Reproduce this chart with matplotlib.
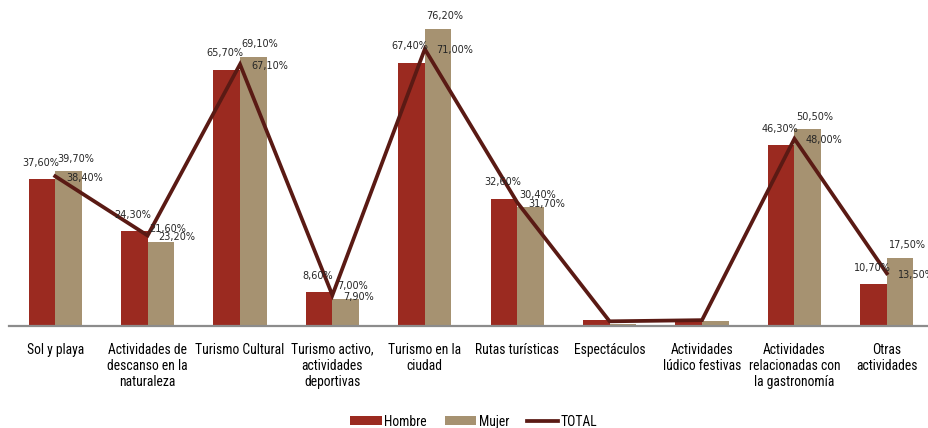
import matplotlib
matplotlib.use("Agg")
import matplotlib.pyplot as plt
import numpy as np
from matplotlib.font_manager import fontManager

categories = ["Sol y playa", "Actividades de\ndescanso en la\nnaturaleza", "Turismo Cultural",
              "Turismo activo,\nactividades\ndeportivas", "Turismo en la\nciudad", "Rutas turísticas",
              "Espectáculos", "Actividades\nlúdico festivas", "Actividades\nrelacionadas con\nla gastronomía",
              "Otras\nactividades"]
hombre = [37.6, 24.3, 65.7, 8.6, 67.4, 32.6, 1.6, 1.3, 46.3, 10.7]
mujer = [39.7, 21.6, 69.1, 7.0, 76.2, 30.4, 0.4, 1.2, 50.5, 17.5]
total = [38.4, 23.2, 67.1, 7.9, 71.0, 31.7, 1.2, 1.5, 48.0, 13.5]

names = {f.name for f in fontManager.ttflist}
narrow = None
for cand in ["Liberation Sans Narrow", "Arial Narrow", "Roboto Condensed", "Open Sans Condensed",
             "DejaVu Sans Condensed", "Noto Sans Condensed"]:
    if cand in names:
        narrow = cand
        break
if narrow is None:
    narrow = "Liberation Sans"
    tick_size = 8.4
else:
    tick_size = 9.8

c_h = "#9b2a20"
c_m = "#a69271"
c_t = "#5a1a14"

fig = plt.figure(figsize=(9.29, 4.28), dpi=100)
ax = fig.add_axes([9/929, (428-326)/428, 924/929, 312/428])

x = np.arange(len(categories))
w = 0.287
bh = ax.bar(x - w/2, hombre, w, color=c_h, label="Hombre", zorder=2)
bm = ax.bar(x + w/2, mujer, w, color=c_m, label="Mujer", zorder=2)
lt, = ax.plot(x, total, color=c_t, lw=2.7, label="TOTAL", zorder=3, solid_joinstyle="miter")

ax.set_xlim(-0.5, len(categories) - 0.5)
ax.set_ylim(0, 80)
ax.set_yticks([])
ax.set_xticks(x)
ax.set_xticklabels(categories, fontsize=tick_size, family=narrow, linespacing=1.2)
ax.tick_params(axis="x", length=0, pad=12)
for s in ["top", "right", "left"]:
    ax.spines[s].set_visible(False)
ax.spines["bottom"].set_color("#8c8c8c")
ax.spines["bottom"].set_linewidth(1.6)

def fmt(v):
    return f"{v:.2f}".replace(".", ",") + "%"

for i in range(len(categories)):
    if hombre[i] > 3:
        ax.annotate(fmt(hombre[i]), (x[i] - w/2, hombre[i]), xytext=(-1, 12), textcoords="offset points",
                    ha="center", va="center", fontsize=7, color="#262626", zorder=4)
    if mujer[i] > 3:
        ax.annotate(fmt(mujer[i]), (x[i] + w/2, mujer[i]), xytext=(5, 9), textcoords="offset points",
                    ha="center", va="center", fontsize=7, color="#262626", zorder=4)
    if total[i] > 3:
        ax.annotate(fmt(total[i]), (x[i], total[i]), xytext=(8, -1), textcoords="offset points",
                    ha="left", va="center", fontsize=7, color="#262626", zorder=4)

leg = fig.legend([bh, bm, lt], ["Hombre", "Mujer", "TOTAL"], loc="lower center",
                 bbox_to_anchor=(0.51, -0.03), ncol=3, frameon=False,
                 prop={"family": narrow, "size": tick_size}, handlelength=2.3, handleheight=0.6,
                 columnspacing=1.3, handletextpad=0.2)

fig.savefig("out.png", dpi=100)
